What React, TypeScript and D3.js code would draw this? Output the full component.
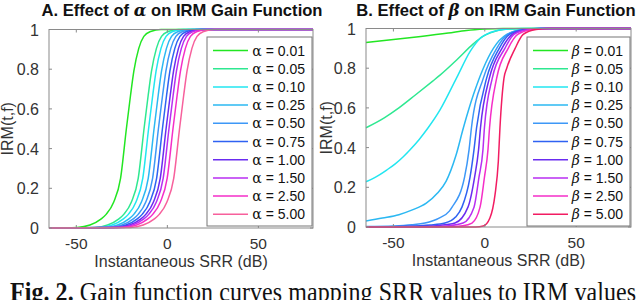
import * as d3 from 'd3'

const xTicks = [-50, 0, 50]
const yTicks = [0, 0.2, 0.4, 0.6, 0.8, 1]

const alphaLabels = ['0.01', '0.05', '0.10', '0.25', '0.50', '0.75', '1.00', '1.50', '2.50', '5.00']
const betaLabels = ['0.01', '0.05', '0.10', '0.25', '0.50', '0.75', '1.00', '1.50', '2.50', '5.00']

// [SRR dB, IRM] pairs
const alphaCurves: [number, number][][] = [
  [[-65, 0], [-49.5, 0.003], [-42.5, 0.015], [-36.5, 0.045], [-33.5, 0.07], [-29.5, 0.13], [-25.7, 0.25], [-22.5, 0.5], [-20.2, 0.67], [-18.4, 0.79], [-15.7, 0.905], [-12.9, 0.965], [-9.2, 0.99], [-3.5, 1], [80, 1]],
  [[-65, 0], [-39.8, 0.003], [-32.8, 0.015], [-26.8, 0.045], [-23.8, 0.07], [-19.8, 0.13], [-16, 0.25], [-12.8, 0.5], [-10.5, 0.67], [-8.7, 0.79], [-6, 0.905], [-3.2, 0.965], [0.5, 0.99], [6.2, 1], [80, 1]],
  [[-65, 0], [-37.3, 0.003], [-30.3, 0.015], [-24.3, 0.045], [-21.3, 0.07], [-17.3, 0.13], [-13.5, 0.25], [-10.3, 0.5], [-8, 0.67], [-6.2, 0.79], [-3.5, 0.905], [-0.7, 0.965], [3, 0.99], [8.7, 1], [80, 1]],
  [[-65, 0], [-34.3, 0.003], [-27.3, 0.015], [-21.3, 0.045], [-18.3, 0.07], [-14.3, 0.13], [-10.5, 0.25], [-7.3, 0.5], [-5, 0.67], [-3.2, 0.79], [-0.5, 0.905], [2.3, 0.965], [6, 0.99], [11.7, 1], [80, 1]],
  [[-65, 0], [-31.9, 0.003], [-24.9, 0.015], [-18.9, 0.045], [-15.9, 0.07], [-11.9, 0.13], [-8.1, 0.25], [-4.9, 0.5], [-2.6, 0.67], [-0.8, 0.79], [1.9, 0.905], [4.7, 0.965], [8.4, 0.99], [14.1, 1], [80, 1]],
  [[-65, 0], [-29.7, 0.003], [-22.7, 0.015], [-16.7, 0.045], [-13.7, 0.07], [-9.7, 0.13], [-5.9, 0.25], [-2.7, 0.5], [-0.4, 0.67], [1.4, 0.79], [4.1, 0.905], [6.9, 0.965], [10.6, 0.99], [16.3, 1], [80, 1]],
  [[-65, 0], [-27.7, 0.003], [-20.7, 0.015], [-14.7, 0.045], [-11.7, 0.07], [-7.7, 0.13], [-3.9, 0.25], [-0.7, 0.5], [1.6, 0.67], [3.4, 0.79], [6.1, 0.905], [8.9, 0.965], [12.6, 0.99], [18.3, 1], [80, 1]],
  [[-65, 0], [-26.1, 0.003], [-19.1, 0.015], [-13.1, 0.045], [-10.1, 0.07], [-6.1, 0.13], [-2.3, 0.25], [0.9, 0.5], [3.2, 0.67], [5, 0.79], [7.7, 0.905], [10.5, 0.965], [14.2, 0.99], [19.9, 1], [80, 1]],
  [[-65, 0], [-23.9, 0.003], [-16.9, 0.015], [-10.9, 0.045], [-7.9, 0.07], [-3.9, 0.13], [-0.1, 0.25], [3.1, 0.5], [5.4, 0.67], [7.2, 0.79], [9.9, 0.905], [12.7, 0.965], [16.4, 0.99], [22.1, 1], [80, 1]],
  [[-65, 0], [-20.3, 0.003], [-13.3, 0.015], [-7.3, 0.045], [-4.3, 0.07], [-0.3, 0.13], [3.5, 0.25], [6.7, 0.5], [9, 0.67], [10.8, 0.79], [13.5, 0.905], [16.3, 0.965], [20, 0.99], [25.7, 1], [80, 1]],
]

// [SRR dB, IRM] pairs
const betaCurves: [number, number][][] = [
  [[-65, 0.93], [-50, 0.945], [-35, 0.96], [-20, 0.977], [-10, 0.99], [0, 0.997], [10, 1], [80, 1]],
  [[-65, 0.5], [-55, 0.55], [-47, 0.6], [-38, 0.665], [-28.5, 0.735], [-24.5, 0.765], [-15, 0.845], [-6, 0.925], [-1, 0.96], [3, 0.978], [12, 0.997], [25, 1], [80, 1]],
  [[-65, 0.228], [-60, 0.25], [-53.7, 0.287], [-49, 0.318], [-44.6, 0.354], [-41, 0.388], [-36, 0.44], [-31, 0.5], [-24.5, 0.59], [-15.5, 0.75], [-8, 0.885], [-2.6, 0.95], [3, 0.98], [10, 0.995], [20, 1], [80, 1]],
  [[-65, 0.03], [-56, 0.045], [-47, 0.062], [-40, 0.085], [-32, 0.12], [-26, 0.17], [-21.2, 0.23], [-15.8, 0.36], [-11.7, 0.5], [-6.2, 0.667], [-0.8, 0.8], [4.7, 0.9], [12, 0.97], [21, 0.995], [30, 1], [80, 1]],
  [[-65, 0.002], [-50, 0.005], [-40, 0.011], [-32.7, 0.02], [-25, 0.045], [-19.4, 0.08], [-17.9, 0.1], [-11.1, 0.25], [-8.6, 0.39], [-7.3, 0.5], [-0.8, 0.75], [6.5, 0.9], [12.5, 0.97], [21, 0.995], [30, 1], [80, 1]],
  [[-65, 0], [-45, 0.003], [-30, 0.01], [-21.8, 0.02], [-16, 0.05], [-12.5, 0.1], [-8.1, 0.25], [-5.9, 0.39], [-4.5, 0.5], [1, 0.75], [7.9, 0.9], [13.5, 0.97], [22, 0.995], [31, 1], [80, 1]],
  [[-65, 0], [-40, 0.002], [-25, 0.008], [-16.3, 0.02], [-9.2, 0.1], [-5.6, 0.25], [-3.4, 0.39], [-2.35, 0.5], [2.5, 0.75], [9.4, 0.9], [15, 0.97], [23, 0.995], [32, 1], [80, 1]],
  [[-65, 0], [-30, 0.001], [-20, 0.006], [-11.9, 0.02], [-5.9, 0.1], [-3.2, 0.25], [-1, 0.39], [-0.2, 0.5], [4.1, 0.75], [11, 0.9], [16, 0.97], [24, 0.995], [33, 1], [80, 1]],
  [[-65, 0], [-20, 0.001], [-12, 0.006], [-7, 0.02], [-2.6, 0.1], [-0.2, 0.25], [1.75, 0.39], [2.6, 0.5], [6.5, 0.75], [12.8, 0.9], [18, 0.97], [26, 0.995], [34, 1], [80, 1]],
  [[-65, 0], [-5, 0], [-0.8, 0.005], [2.8, 0.045], [5.6, 0.163], [7.4, 0.33], [8.3, 0.5], [10.5, 0.75], [12, 0.8], [16.6, 0.9], [21, 0.97], [28, 0.995], [35, 1], [80, 1]],
]

const alphaColors = ['#22e622', '#2ee891', '#22e6f0', '#2bb8f2', '#3d98f7', '#2f62f2', '#6a2cf0', '#b82ef2', '#f52ec8', '#f7609c']
const betaColors = ['#22e622', '#2ee891', '#22e6f0', '#2bb8f2', '#3d98f7', '#2f62f2', '#6a2cf0', '#b82ef2', '#f52ec8', '#f21c62']

const sans = '"Liberation Sans", Arial, Helvetica, sans-serif'

interface PanelProps {
  left: number
  right: number
  top: number
  bottom: number
  title: string
  titleX: number
  symbol: string
  symbolItalic: boolean
  labels: string[]
  curves: [number, number][][]
  colors: string[]
  legendLeft: number
  legendRight: number
  yLabelX: number
}

const Panel = (p: PanelProps) => {
  const x = d3.scaleLinear().domain([-65, 80]).range([p.left, p.right])
  const y = d3.scaleLinear().domain([0, 1]).range([p.bottom, p.top])
  const line = d3
    .line<[number, number]>()
    .x(d => x(d[0]))
    .y(d => y(d[1]))
    .curve(d3.curveMonotoneX)
  const axisColor = '#8a8a8a'
  const tickLen = 3
  const legTop = 37
  const legBottom = 226
  const rowStart = 50.5
  const rowStep = 18.2
  const [before, after] = p.title.split(p.symbol)
  return (
    <g>
      <text x={p.titleX} y={16} textAnchor="middle" fontFamily={sans} fontWeight="bold" fontSize={16.6} fill="#111">
        {before}
        <tspan fontFamily='"DejaVu Serif", serif' fontStyle="italic">{p.symbol}</tspan>
        {after}
      </text>
      {p.curves.map((c, i) => (
        <path key={i} d={line(c) || ''} fill="none" stroke={p.colors[i]} strokeWidth={1.5} />
      ))}
      <rect x={p.left} y={p.top} width={p.right - p.left} height={p.bottom - p.top} fill="none" stroke={axisColor} strokeWidth={1} />
      {xTicks.map(t => (
        <g key={t}>
          <line x1={x(t)} x2={x(t)} y1={p.bottom} y2={p.bottom - tickLen} stroke={axisColor} />
          <line x1={x(t)} x2={x(t)} y1={p.top} y2={p.top + tickLen} stroke={axisColor} />
          <text x={x(t)} y={p.bottom + 20.5} textAnchor="middle" fontFamily={sans} fontSize={15.5} fill="#333">
            {t < 0 ? `-${Math.abs(t)}` : t}
          </text>
        </g>
      ))}
      {yTicks.map(t => (
        <g key={t}>
          <line x1={p.left} x2={p.left + tickLen} y1={y(t)} y2={y(t)} stroke={axisColor} />
          <line x1={p.right} x2={p.right - tickLen} y1={y(t)} y2={y(t)} stroke={axisColor} />
          <text x={p.left - 10} y={y(t) + 6} textAnchor="end" fontFamily={sans} fontSize={16} fill="#333">
            {String(t)}
          </text>
        </g>
      ))}
      <text x={(p.left + p.right) / 2} y={p.bottom + 38.5} textAnchor="middle" fontFamily={sans} fontSize={16} fill="#333">
        Instantaneous SRR (dB)
      </text>
      <text
        transform={`translate(${p.yLabelX},${(p.top + p.bottom) / 2}) rotate(-90)`}
        textAnchor="middle"
        fontFamily={sans}
        fontSize={16}
        fill="#333"
      >
        IRM(t,f)
      </text>
      <rect x={p.legendLeft} y={legTop} width={p.legendRight - p.legendLeft} height={legBottom - legTop} fill="#fff" stroke="#777" strokeWidth={1} />
      {p.labels.map((l, i) => {
        const ry = rowStart + i * rowStep
        return (
          <g key={l}>
            <line x1={p.legendLeft + 6} x2={p.legendLeft + 41} y1={ry} y2={ry} stroke={p.colors[i]} strokeWidth={1.5} />
            <text x={p.legendRight - 7} y={ry + 5} textAnchor="end" fontFamily={sans} fontSize={14} fill="#111">
              <tspan fontFamily='"DejaVu Serif", serif' fontStyle={p.symbolItalic ? 'italic' : 'normal'}>{p.symbol}</tspan>
              {` = ${l}`}
            </text>
          </g>
        )
      })}
    </g>
  )
}

export default function App() {
  return (
    <svg width={640} height={300} style={{ position: 'absolute', left: 0, top: 0, background: '#fff' }}>
      <rect width={640} height={300} fill="#fff" />
      <Panel
        left={49}
        right={313}
        top={29.5}
        bottom={228}
        title="A. Effect of α on IRM Gain Function"
        titleX={182}
        symbol="α"
        symbolItalic={false}
        labels={alphaLabels}
        curves={alphaCurves}
        colors={alphaColors}
        legendLeft={207}
        legendRight={312}
        yLabelX={13}
      />
      <Panel
        left={366}
        right={631}
        top={28.5}
        bottom={227}
        title="B. Effect of β on IRM Gain Function"
        titleX={496}
        symbol="β"
        symbolItalic={true}
        labels={betaLabels}
        curves={betaCurves}
        colors={betaColors}
        legendLeft={527}
        legendRight={630}
        yLabelX={332}
      />
      <text
        transform="translate(10,301) scale(1,1.18)"
        fontFamily='"Liberation Serif", "Times New Roman", serif'
        fontSize={24}
        fill="#111"
        textLength={626}
        lengthAdjust="spacing"
      >
        <tspan fontWeight="bold">Fig. 2.</tspan> Gain function curves mapping SRR values to IRM values
      </text>
    </svg>
  )
}
